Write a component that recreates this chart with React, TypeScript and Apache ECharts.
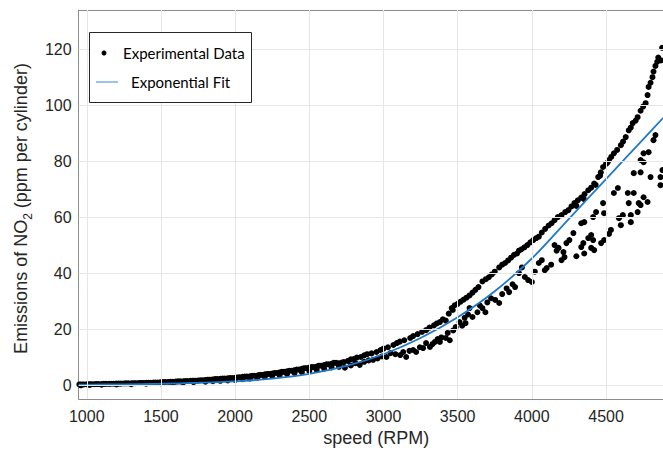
import React, { useEffect, useRef } from 'react';
import * as echarts from 'echarts';

const xTicks = [1000, 1500, 2000, 2500, 3000, 3500, 4000, 4500];
const yTicks = [0, 20, 40, 60, 80, 100, 120];

// Dense low-speed band (RPM, ppm)
const lowBandTop: number[][] = [
  [950, 0.2], [965, 0.2], [980, 0.2], [1000, 0.25], [1015, 0.3], [1030, 0.3], [1050, 0.3], [1065, 0.35], [1080, 0.35],
  [1100, 0.35], [1115, 0.4], [1130, 0.4], [1150, 0.4], [1165, 0.45], [1180, 0.45], [1200, 0.5], [1215, 0.5],
  [1230, 0.5], [1250, 0.55], [1265, 0.6], [1280, 0.6], [1300, 0.6], [1315, 0.65], [1330, 0.65], [1350, 0.7],
  [1365, 0.75], [1380, 0.75], [1400, 0.8], [1415, 0.8], [1430, 0.8], [1450, 0.85], [1465, 0.9], [1480, 0.9],
  [1500, 1.0], [1515, 1.05], [1530, 1.05], [1550, 1.1], [1565, 1.15], [1580, 1.15], [1600, 1.2], [1615, 1.3],
  [1630, 1.3], [1650, 1.35], [1665, 1.4], [1680, 1.4], [1700, 1.5], [1715, 1.55], [1730, 1.55], [1750, 1.6],
  [1765, 1.7], [1780, 1.7], [1800, 1.8], [1815, 1.9], [1830, 1.9], [1850, 2.0], [1865, 2.1], [1880, 2.1],
  [1900, 2.2], [1915, 2.3], [1930, 2.3], [1950, 2.4], [1965, 2.5], [1980, 2.5], [2000, 2.6], [2015, 2.7],
  [2030, 2.75], [2050, 2.9], [2065, 3.0], [2080, 3.0], [2100, 3.1], [2115, 3.3], [2130, 3.3], [2150, 3.4],
  [2165, 3.6], [2180, 3.6], [2200, 3.8], [2215, 3.9], [2230, 3.95], [2250, 4.1], [2265, 4.3], [2280, 4.3],
  [2300, 4.5], [2315, 4.7], [2330, 4.7], [2350, 4.9], [2365, 5.1], [2380, 5.1], [2400, 5.3], [2415, 5.5],
  [2430, 5.5], [2450, 5.8], [2465, 6.0], [2480, 6.0], [2500, 6.2], [2515, 6.4], [2530, 6.4], [2550, 6.6],
  [2565, 6.9], [2580, 6.9], [2600, 7.1], [2615, 7.4], [2630, 7.4], [2650, 7.6], [2665, 7.9], [2680, 7.9],
];

const lowBandBottom: number[][] = [
  [960, -0.1], [1020, 0.0], [1100, 0.1], [1200, 0.2], [1300, 0.3], [1400, 0.45], [1500, 0.6], [1580, 0.75],
  [1650, 0.9], [1720, 1.05], [1800, 1.2], [1850, 1.35], [1900, 1.5], [1950, 1.65], [2000, 1.8], [2050, 2.05],
  [2100, 2.3], [2150, 2.6], [2200, 2.9], [2250, 3.2], [2300, 3.5], [2350, 3.9], [2400, 4.3], [2450, 4.6],
  [2500, 5.0], [2550, 5.4], [2600, 5.8], [2650, 6.3], [2700, 6.8],
];

// Upper branch (above the fit)
const upperBranch: number[][] = [
  [2700, 7.8], [2720, 8.0], [2733, 8.2], [2760, 8.6], [2780, 9.2], [2800, 9.3], [2820, 9.8], [2847, 10.0],
  [2870, 10.6], [2890, 11.0], [2920, 11.3], [2953, 11.8], [2980, 12.5], [3000, 13.0], [3030, 13.5], [3067, 14.3],
  [3090, 15.0], [3110, 15.5], [3140, 16.0], [3180, 16.8], [3200, 17.5], [3230, 18.2], [3260, 19.0], [3287, 19.6],
  [3310, 20.5], [3340, 21.3], [3360, 22.0], [3380, 22.5], [3400, 23.5], [3420, 23.0], [3440, 25.5], [3460, 27.5],
  [3467, 26.8], [3480, 28.5], [3500, 29.0], [3520, 29.8], [3540, 30.5], [3560, 31.2], [3580, 32.0], [3600, 33.0],
  [3620, 34.0], [3640, 35.0], [3667, 37.0], [3690, 37.8], [3710, 38.5], [3730, 39.5], [3750, 40.5], [3780, 42.0],
  [3800, 43.0], [3820, 43.6], [3840, 44.5], [3860, 45.5], [3880, 46.5], [3900, 47.0], [3913, 48.0], [3930, 48.5],
  [3950, 49.2], [3970, 50.0], [3990, 51.0], [4010, 51.8], [4030, 52.5], [4047, 53.0], [4067, 54.5], [4090, 55.8],
  [4113, 57.0], [4133, 57.8], [4153, 58.9], [4175, 60.0], [4200, 60.7], [4225, 61.8], [4247, 62.5], [4267, 63.8],
  [4287, 65.0], [4300, 64.0], [4310, 66.0], [4333, 67.0], [4350, 66.5], [4355, 68.2], [4380, 69.6], [4400, 70.5],
  [4420, 72.0], [4430, 71.5], [4447, 74.3], [4460, 74.8], [4465, 76.0], [4480, 77.9], [4500, 79.0], [4510, 79.5],
  [4520, 80.4], [4535, 81.5], [4553, 82.8], [4575, 84.0], [4600, 85.7], [4615, 87.0], [4633, 88.6], [4653, 91.0],
  [4667, 92.0], [4680, 93.6], [4700, 94.5], [4713, 95.7], [4733, 98.0], [4750, 99.5], [4767, 100.7], [4780, 103.6],
  [4787, 106.5], [4800, 108.0], [4813, 110.0], [4820, 112.0], [4833, 114.0], [4845, 115.5], [4852, 117.0],
  [4870, 116.0], [4878, 120.5],
];

// Lower branch (below the fit)
const lowerBranch: number[][] = [
  [2700, 6.5], [2740, 6.2], [2780, 7.0], [2810, 7.8], [2840, 7.2], [2870, 8.3], [2900, 8.8], [2930, 9.0],
  [2960, 9.5], [2990, 10.2], [3020, 10.0], [3047, 11.4], [3080, 11.0], [3113, 10.7], [3133, 11.8], [3153, 10.0],
  [3175, 12.2], [3200, 12.5], [3220, 11.8], [3245, 13.5], [3267, 13.2], [3287, 15.0], [3313, 13.6], [3330, 14.6],
  [3347, 15.4], [3365, 16.4], [3380, 15.4], [3390, 17.0], [3420, 16.8], [3433, 18.6], [3447, 16.0], [3470, 19.5],
  [3487, 20.7], [3513, 22.5], [3530, 21.2], [3547, 24.0], [3553, 22.1], [3570, 25.2], [3580, 27.5], [3600, 24.3],
  [3633, 26.0], [3650, 28.4], [3667, 27.5], [3687, 26.0], [3700, 29.5], [3725, 31.0], [3753, 30.4], [3780, 29.3],
  [3800, 32.5], [3830, 34.5], [3847, 33.2], [3870, 36.0], [3887, 35.0], [3913, 40.0], [3933, 42.0], [3953, 38.6],
  [3975, 37.5], [4000, 36.8], [4020, 40.5], [4047, 43.6], [4067, 44.6], [4087, 41.0], [4100, 41.8], [4130, 43.0],
  [4153, 50.0], [4167, 48.0], [4180, 49.0], [4200, 44.6], [4213, 47.5], [4220, 45.7], [4233, 50.7], [4253, 51.8],
  [4280, 54.3], [4300, 46.0], [4333, 49.3], [4333, 57.8], [4347, 50.7], [4353, 47.0], [4353, 58.2], [4380, 52.5],
  [4400, 53.6], [4400, 49.0], [4413, 51.8], [4413, 60.0], [4420, 48.2], [4433, 61.8], [4467, 50.7], [4480, 65.0],
  [4487, 51.8], [4487, 61.4], [4520, 54.0], [4533, 55.4], [4553, 68.6], [4580, 70.4], [4587, 59.6], [4600, 57.1],
  [4613, 60.7], [4647, 68.6], [4653, 65.0], [4667, 58.2], [4667, 60.7], [4687, 68.6], [4687, 75.7], [4713, 61.8],
  [4720, 65.0], [4733, 64.3], [4733, 76.0], [4733, 80.4], [4753, 67.1], [4753, 79.6], [4753, 82.8], [4780, 65.4],
  [4787, 83.2], [4800, 74.3], [4820, 87.5], [4833, 89.3], [4867, 74.3], [4867, 71.4], [4880, 76.8],
];

// Exponential fit curve
const fitCurve: number[][] = [
  [945, 0.1], [1000, 0.15], [1250, 0.25], [1500, 0.45], [1750, 0.8], [2000, 1.3], [2250, 2.3], [2500, 4.0],
  [2750, 6.8], [3000, 11.0], [3250, 16.8], [3500, 24.2], [3750, 33.5], [4000, 45.2], [4250, 59.4], [4500, 73.6],
  [4750, 87.8], [4884, 95.4],
];

const AXIS_COLOR = '#8c8c8c';
const TEXT_COLOR = '#262626';
const FONT = "'Liberation Sans', Arial, Helvetica, sans-serif";

export default function App() {
  const ref = useRef<HTMLDivElement>(null);
  useEffect(() => {
    document.body.style.margin = '0';
    const chart = echarts.init(ref.current!, null, { renderer: 'svg' });
    const points = [...lowBandTop, ...lowBandBottom, ...upperBranch, ...lowerBranch];
    chart.setOption({
      animation: false,
      textStyle: { fontFamily: FONT },
      grid: { left: 72, right: 0, top: 10, bottom: 55 },
      xAxis: [
        {
          type: 'value', min: 945, max: 4884, position: 'bottom',
          axisLine: { show: true, onZero: false, lineStyle: { color: AXIS_COLOR, width: 1 } },
          axisTick: { show: true, inside: true, length: 5, customValues: xTicks, lineStyle: { color: AXIS_COLOR } },
          axisLabel: {
            customValues: xTicks, color: TEXT_COLOR, fontSize: 16, margin: 9, fontFamily: FONT,
            formatter: (v: number) => String(v),
          },
          splitLine: { show: false },
          name: 'speed (RPM)', nameLocation: 'middle', nameGap: 30,
          nameTextStyle: { fontSize: 18, color: TEXT_COLOR, fontFamily: FONT, padding: [0, 0, 0, 11] },
        },
        {
          type: 'value', min: 945, max: 4884, position: 'top',
          axisLine: { show: true, onZero: false, lineStyle: { color: AXIS_COLOR, width: 1 } },
          axisTick: { show: true, inside: true, length: 5, customValues: xTicks, lineStyle: { color: AXIS_COLOR } },
          axisLabel: { show: false },
          splitLine: { show: false },
        },
      ],
      yAxis: {
        type: 'value', min: -5, max: 134,
        axisLine: { show: true, onZero: false, lineStyle: { color: AXIS_COLOR, width: 1 } },
        axisTick: { show: true, inside: true, length: 5, customValues: yTicks, lineStyle: { color: AXIS_COLOR } },
        axisLabel: {
          customValues: yTicks, color: TEXT_COLOR, fontSize: 16, margin: 7, fontFamily: FONT,
          formatter: (v: number) => String(v),
        },
        splitLine: { show: false },
        name: 'Emissions of NO{sub|2} (ppm per cylinder)', nameLocation: 'middle', nameGap: 40,
        nameTextStyle: {
          fontSize: 18, color: TEXT_COLOR, fontFamily: FONT, lineHeight: 26, padding: [0, 8, 0, 0],
          rich: { sub: { fontSize: 12, lineHeight: 12, verticalAlign: 'bottom', color: TEXT_COLOR, fontFamily: FONT } },
        },
      },
      series: [
        {
          type: 'line', xAxisIndex: 0, data: [[945, -5]], showSymbol: false, silent: true, z: 0,
          lineStyle: { width: 0, opacity: 0 },
          markLine: {
            silent: true, symbol: ['none', 'none'], label: { show: false }, emphasis: { disabled: true },
            lineStyle: { color: '#e6e6e6', type: 'solid', width: 1 },
            data: [...xTicks.map((v) => ({ xAxis: v })), ...yTicks.map((v) => ({ yAxis: v }))],
          },
        },
        {
          type: 'scatter', xAxisIndex: 0, data: points, symbolSize: 6, z: 2, silent: true,
          itemStyle: { color: '#000', opacity: 1 },
        },
        {
          type: 'line', xAxisIndex: 0, data: fitCurve, smooth: 0.3, showSymbol: false, z: 3, silent: true,
          lineStyle: { color: '#1f78c9', width: 1.8 },
        },
      ],
      graphic: [
        { type: 'rect', shape: { x: 89.5, y: 32.5, width: 162, height: 70 }, style: { fill: '#fff', stroke: TEXT_COLOR, lineWidth: 1 }, z: 100 },
        { type: 'circle', shape: { cx: 104, cy: 53, r: 2.5 }, style: { fill: '#000' }, z: 101 },
        { type: 'text', x: 123, y: 53, style: { text: 'Experimental Data', font: '15px Lato', fill: '#000', verticalAlign: 'middle' }, z: 101 },
        { type: 'line', shape: { x1: 96, y1: 82, x2: 118, y2: 82 }, style: { stroke: '#5b9bd5', lineWidth: 1.2 }, z: 101 },
        { type: 'text', x: 131, y: 82, style: { text: 'Exponential Fit', font: '15px Lato', fill: '#000', verticalAlign: 'middle' }, z: 101 },
      ],
    });
    return () => chart.dispose();
  }, []);
  return <div ref={ref} style={{ width: 663, height: 454 }} />;
}
